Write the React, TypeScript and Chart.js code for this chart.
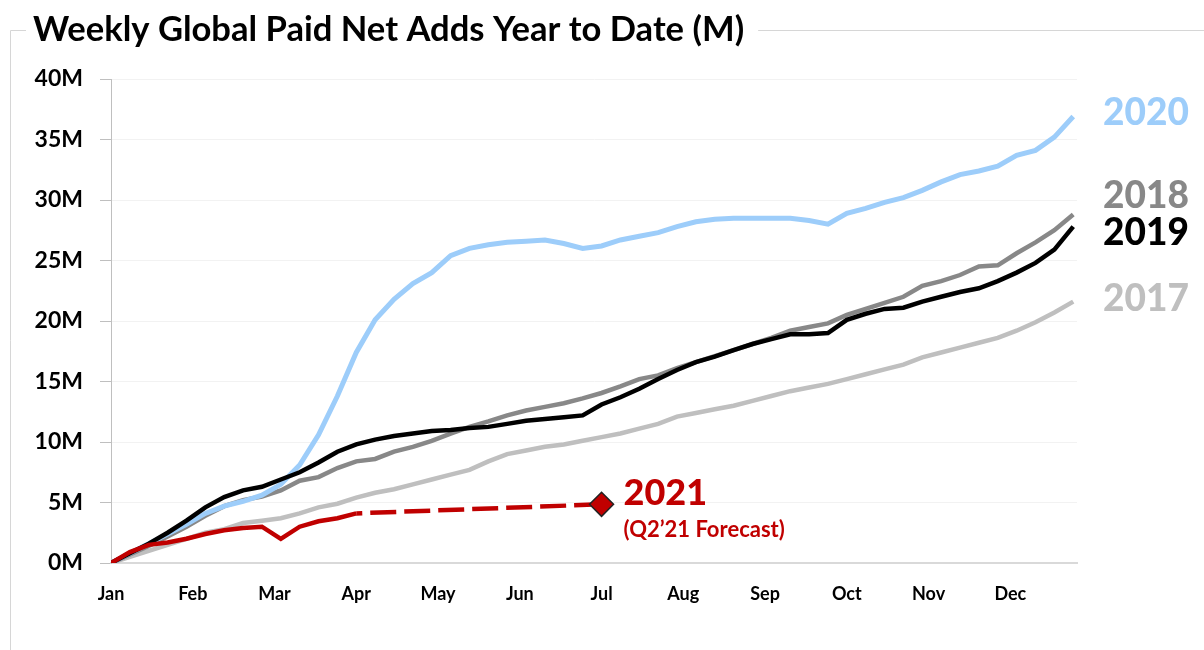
import React, { useEffect, useRef } from "react";
import { Chart, registerables } from "chart.js";

Chart.register(...registerables);

const TITLE = "Weekly Global Paid Net Adds Year to Date (M)";
const MONTHS = ["Jan", "Feb", "Mar", "Apr", "May", "Jun", "Jul", "Aug", "Sep", "Oct", "Nov", "Dec"];
const Y_TICKS = [0, 5, 10, 15, 20, 25, 30, 35, 40];

// weekly cumulative paid net adds (M), week 0..51
const S2020 = [0, 0.8, 1.6, 2.4, 3.2, 4.1, 4.7, 5.1, 5.6, 6.5, 8.1, 10.6, 13.8, 17.4, 20.1, 21.8, 23.1, 24.0, 25.4, 26.0, 26.3, 26.5, 26.6, 26.7, 26.4, 26.0, 26.2, 26.7, 27.0, 27.3, 27.8, 28.2, 28.4, 28.5, 28.5, 28.5, 28.5, 28.3, 28.0, 28.9, 29.3, 29.8, 30.2, 30.8, 31.5, 32.1, 32.4, 32.8, 33.7, 34.1, 35.2, 36.9];
const S2019 = [0, 0.8, 1.6, 2.5, 3.5, 4.6, 5.45, 6.0, 6.3, 6.9, 7.5, 8.3, 9.2, 9.8, 10.2, 10.5, 10.7, 10.9, 11.0, 11.15, 11.25, 11.5, 11.75, 11.9, 12.05, 12.2, 13.1, 13.7, 14.4, 15.2, 15.95, 16.6, 17.05, 17.6, 18.1, 18.5, 18.9, 18.9, 19.0, 20.1, 20.6, 21.0, 21.1, 21.6, 22.0, 22.4, 22.7, 23.3, 24.0, 24.8, 25.9, 27.8];
const S2018 = [0, 0.7, 1.4, 2.2, 3.0, 3.9, 4.7, 5.2, 5.5, 6.0, 6.8, 7.1, 7.85, 8.4, 8.6, 9.2, 9.6, 10.1, 10.7, 11.25, 11.7, 12.2, 12.6, 12.9, 13.2, 13.6, 14.05, 14.6, 15.2, 15.5, 16.1, 16.6, 17.1, 17.6, 18.1, 18.6, 19.2, 19.5, 19.8, 20.5, 21.0, 21.5, 22.0, 22.9, 23.3, 23.8, 24.5, 24.6, 25.6, 26.5, 27.5, 28.8];
const S2017 = [0, 0.5, 1.0, 1.5, 2.0, 2.5, 2.8, 3.3, 3.5, 3.7, 4.1, 4.6, 4.9, 5.4, 5.8, 6.1, 6.5, 6.9, 7.3, 7.7, 8.4, 9.0, 9.3, 9.6, 9.8, 10.1, 10.4, 10.7, 11.1, 11.5, 12.1, 12.4, 12.7, 13.0, 13.4, 13.8, 14.2, 14.5, 14.8, 15.2, 15.6, 16.0, 16.4, 17.0, 17.4, 17.8, 18.2, 18.6, 19.2, 19.9, 20.7, 21.6];
const S2021 = [0, 0.9, 1.5, 1.7, 2.0, 2.4, 2.7, 2.9, 3.0, 2.0, 3.0, 3.45, 3.7, 4.1];
const FORECAST_WEEKS = [13, 26];
const FORECAST_VALUES = [4.1, 4.85];

const END_LABELS = ["2020", "2018", "2019", "2017"];
const END_LABEL_VALUES = [37.2, 30.3, 27.3, 21.8];
const END_LABEL_COLORS = ["#9DCDFA", "#888888", "#000000", "#BFBFBF"];

const FONT = "Lato, 'Open Sans', sans-serif";
const RED = "#C00000";

const toPts = (arr: number[]) => arr.map((v, i) => ({ x: i, y: v }));

const overlayPlugin = {
  id: "overlay",
  beforeDraw(chart: any) {
    const ctx = chart.ctx;
    ctx.save();
    ctx.font = `bold 34.6px ${FONT}`;
    ctx.fillStyle = "#000";
    ctx.textBaseline = "middle";
    ctx.textAlign = "left";
    const tx = 33;
    ctx.fillText(TITLE, tx, 30);
    const tw = ctx.measureText(TITLE).width;
    ctx.strokeStyle = "#d6d6d6";
    ctx.lineWidth = 1;
    ctx.beginPath();
    ctx.moveTo(10.5, 650);
    ctx.lineTo(10.5, 30.5);
    ctx.lineTo(tx - 7, 30.5);
    ctx.moveTo(tx + tw + 14, 30.5);
    ctx.lineTo(1204, 30.5);
    ctx.stroke();
    ctx.restore();
  },
  afterDatasetsDraw(chart: any) {
    const ctx = chart.ctx;
    const xs = chart.scales.x;
    const ys = chart.scales.y;
    ctx.save();
    ctx.textBaseline = "middle";
    ctx.textAlign = "left";
    ctx.font = `900 37px ${FONT}`;
    const lx = chart.chartArea.right + 26;
    END_LABELS.forEach((t, i) => {
      ctx.fillStyle = END_LABEL_COLORS[i];
      ctx.fillText(t, lx, ys.getPixelForValue(END_LABEL_VALUES[i]));
    });
    const dx = xs.getPixelForValue(FORECAST_WEEKS[1]);
    const dy = ys.getPixelForValue(FORECAST_VALUES[1]);
    ctx.fillStyle = RED;
    ctx.font = `900 36px ${FONT}`;
    ctx.fillText("2021", dx + 22, dy - 11);
    ctx.font = `bold 22px ${FONT}`;
    ctx.fillText("(Q2\u201921 Forecast)", dx + 22, dy + 26);
    ctx.restore();
  },
};

export default function App() {
  const ref = useRef<HTMLCanvasElement>(null);
  useEffect(() => {
    if (!ref.current) return;
    const chart = new Chart(ref.current, {
      type: "line",
      data: {
        datasets: [
          {
            label: "2021 forecast marker",
            data: [{ x: FORECAST_WEEKS[1], y: FORECAST_VALUES[1] }],
            showLine: false,
            pointStyle: "rectRot",
            pointRadius: 12,
            backgroundColor: RED,
            borderColor: "#222",
            borderWidth: 1.5,
          },
          {
            label: "2021",
            data: toPts(S2021),
            borderColor: RED,
            borderWidth: 4.5,
            pointRadius: 0,
            tension: 0,
          },
          {
            label: "2021 forecast",
            data: FORECAST_WEEKS.map((w, i) => ({ x: w, y: FORECAST_VALUES[i] })),
            borderColor: RED,
            borderWidth: 4.5,
            borderDash: [26, 8],
            borderDashOffset: 20,
            pointRadius: 0,
          },
          { label: "2019", data: toPts(S2019), borderColor: "#000000", borderWidth: 4.5, pointRadius: 0, tension: 0 },
          { label: "2020", data: toPts(S2020), borderColor: "#9DCDFA", borderWidth: 5, pointRadius: 0, tension: 0 },
          { label: "2018", data: toPts(S2018), borderColor: "#888888", borderWidth: 4.5, pointRadius: 0, tension: 0 },
          { label: "2017", data: toPts(S2017), borderColor: "#BFBFBF", borderWidth: 4.5, pointRadius: 0, tension: 0 },
        ],
      },
      options: {
        responsive: false,
        animation: false,
        events: [],
        layout: { padding: { left: 0, top: 79, right: 127, bottom: 0 } },
        plugins: { legend: { display: false }, tooltip: { enabled: false }, title: { display: false } },
        scales: {
          x: {
            type: "linear",
            min: 0,
            max: 51.2,
            afterBuildTicks: (s: any) => {
              s.ticks = MONTHS.map((_, i) => ({ value: (i * 52) / 12 }));
            },
            afterFit: (s: any) => {
              s.height = 87;
            },
            ticks: {
              autoSkip: false,
              maxRotation: 0,
              padding: 20,
              color: "#000",
              font: { family: FONT, weight: "bold", size: 18 },
              callback: (_v: any, i: number) => MONTHS[i],
            },
            grid: { display: false, drawTicks: false },
            border: { display: true, color: "#d9d9d9", width: 2 },
          },
          y: {
            min: 0,
            max: 40,
            afterBuildTicks: (s: any) => {
              s.ticks = Y_TICKS.map((v) => ({ value: v }));
            },
            afterFit: (s: any) => {
              s.width = 111;
            },
            ticks: {
              padding: 17,
              color: "#000",
              font: { family: FONT, weight: "bold", size: 23 },
              callback: (v: any) => `${v}M`,
            },
            grid: { color: "#f2f2f2", tickColor: "#bfbfbf", tickLength: 11, lineWidth: 1 },
            border: { display: true, color: "#bfbfbf", width: 1 },
          },
        },
      },
      plugins: [overlayPlugin],
    });
    return () => chart.destroy();
  }, []);
  return (
    <div style={{ position: "fixed", left: 0, top: 0, width: 1204, height: 650, background: "#fff" }}>
      <canvas ref={ref} width={1204} height={650} style={{ display: "block" }} />
    </div>
  );
}
